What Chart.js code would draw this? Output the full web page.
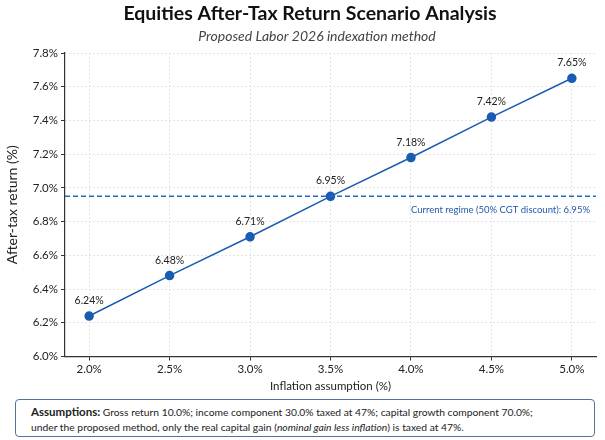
<!DOCTYPE html>
<html>
<head>
<meta charset="utf-8">
<script src="https://cdn.jsdelivr.net/npm/chart.js@4"></script>
<style>
  body { margin: 0; background: #fff; font-family: Lato, "Noto Sans", sans-serif; }
  #wrap { width: 605px; height: 393px; position: relative; }
  #note {
    position: absolute; left: 15px; top: 399px; width: 580px; height: 38px;
    box-sizing: border-box;
    border: 1.5px solid #56719c; border-radius: 4px; padding: 4px 14px 0 15px;
    font-size: 10.3px; line-height: 15px; color: #222;
  }
  #note b { font-size: 11.5px; }
</style>
</head>
<body>
<div id="wrap"><canvas id="my-chart"></canvas></div>
<div id="note"><b>Assumptions:</b> Gross return 10.0%; income component 30.0% taxed at 47%; capital growth component 70.0%;<br>under the proposed method, only the real capital gain (<i>nominal gain less inflation</i>) is taxed at 47%.</div>
<script>
const inflation = [2.0, 2.5, 3.0, 3.5, 4.0, 4.5, 5.0];
const afterTax = [6.24, 6.48, 6.71, 6.95, 7.18, 7.42, 7.65];
const currentRegime = 6.95;
const xTicks = [2.0, 2.5, 3.0, 3.5, 4.0, 4.5, 5.0];
const yTicks = [6.0, 6.2, 6.4, 6.6, 6.8, 7.0, 7.2, 7.4, 7.6, 7.8];
const titleText = "Equities After-Tax Return Scenario Analysis";
const subtitleText = "Proposed Labor 2026 indexation method";

const blue = "#1a5cb2";

const extras = {
  id: "extras",
  beforeDraw(chart) {
    const ctx = chart.ctx;
    ctx.save();
    ctx.textAlign = "center";
    ctx.textBaseline = "middle";
    ctx.fillStyle = "#111";
    ctx.font = "bold 19.5px Lato";
    ctx.fillText(titleText, 310, 14);
    ctx.fillStyle = "#444";
    ctx.font = "italic 14px Lato";
    ctx.fillText(subtitleText, 317, 36);
    ctx.restore();
  },
  afterDatasetsDraw(chart) {
    const ctx = chart.ctx;
    const y = chart.scales.y;
    const area = chart.chartArea;
    ctx.save();
    // current regime reference line
    const yy = y.getPixelForValue(currentRegime);
    ctx.strokeStyle = "#2468c6";
    ctx.lineWidth = 1.5;
    ctx.setLineDash([5, 3]);
    ctx.beginPath();
    ctx.moveTo(area.left, yy);
    ctx.lineTo(area.right, yy);
    ctx.stroke();
    ctx.setLineDash([]);
    ctx.fillStyle = "#2259a8";
    ctx.font = "9.5px Lato";
    ctx.textAlign = "right";
    ctx.textBaseline = "middle";
    ctx.fillText("Current regime (50% CGT discount): " + currentRegime.toFixed(2) + "%", area.right - 6, yy + 14);
    // point labels
    ctx.fillStyle = "#222";
    ctx.font = "10.5px Lato";
    ctx.textAlign = "center";
    ctx.textBaseline = "bottom";
    chart.getDatasetMeta(0).data.forEach((pt, i) => {
      ctx.fillText(afterTax[i].toFixed(2) + "%", pt.x, pt.y - 10);
    });
    ctx.restore();
  }
};

const ctx = document.getElementById("my-chart").getContext("2d");
const chart = new Chart(ctx, {
  type: "line",
  data: {
    datasets: [
      {
        data: inflation.map((v, i) => ({ x: v, y: afterTax[i] })),
        borderColor: blue,
        backgroundColor: blue,
        borderWidth: 1.5,
        pointRadius: 4,
        pointHoverRadius: 4,
        tension: 0
      }
    ]
  },
  options: {
    responsive: true,
    maintainAspectRatio: false,
    animation: false,
    layout: { padding: { left: 4, right: 9, top: 53, bottom: 0 } },
    plugins: {
      legend: { display: false },
      tooltip: { enabled: false },
      title: { display: false },
      subtitle: { display: false }
    },
    scales: {
      x: {
        type: "linear",
        min: 1.85,
        max: 5.15,
        afterBuildTicks: s => { s.ticks = xTicks.map(v => ({ value: v })); },
        afterFit: s => { s.height = 36.5; },
        ticks: {
          color: "#222",
          font: { family: "Lato", size: 11.5 },
          callback: v => v.toFixed(1) + "%",
          padding: 2
        },
        grid: { color: "#e4e4e4", tickColor: "#333", tickLength: 4 },
        border: { color: "#333", width: 1.2, dash: [2, 2] },
        title: {
          display: true,
          text: "Inflation assumption (%)",
          color: "#222",
          font: { family: "Lato", size: 11.5 },
          padding: { top: 1, bottom: 0 }
        }
      },
      y: {
        min: 6.0,
        max: 7.8,
        afterBuildTicks: s => { s.ticks = yTicks.map(v => ({ value: v })); },
        afterFit: s => { s.width = 61; },
        ticks: {
          color: "#222",
          font: { family: "Lato", size: 11.5 },
          callback: v => v.toFixed(1) + "%",
          padding: 3
        },
        grid: { color: "#e4e4e4", tickColor: "#333", tickLength: 4 },
        border: { color: "#333", width: 1.2, dash: [2, 2] },
        title: {
          display: true,
          text: "After-tax return (%)",
          color: "#222",
          font: { family: "Lato", size: 14 },
          padding: { top: 0, bottom: 2 }
        }
      }
    }
  },
  plugins: [extras]
});
</script>
</body>
</html>
